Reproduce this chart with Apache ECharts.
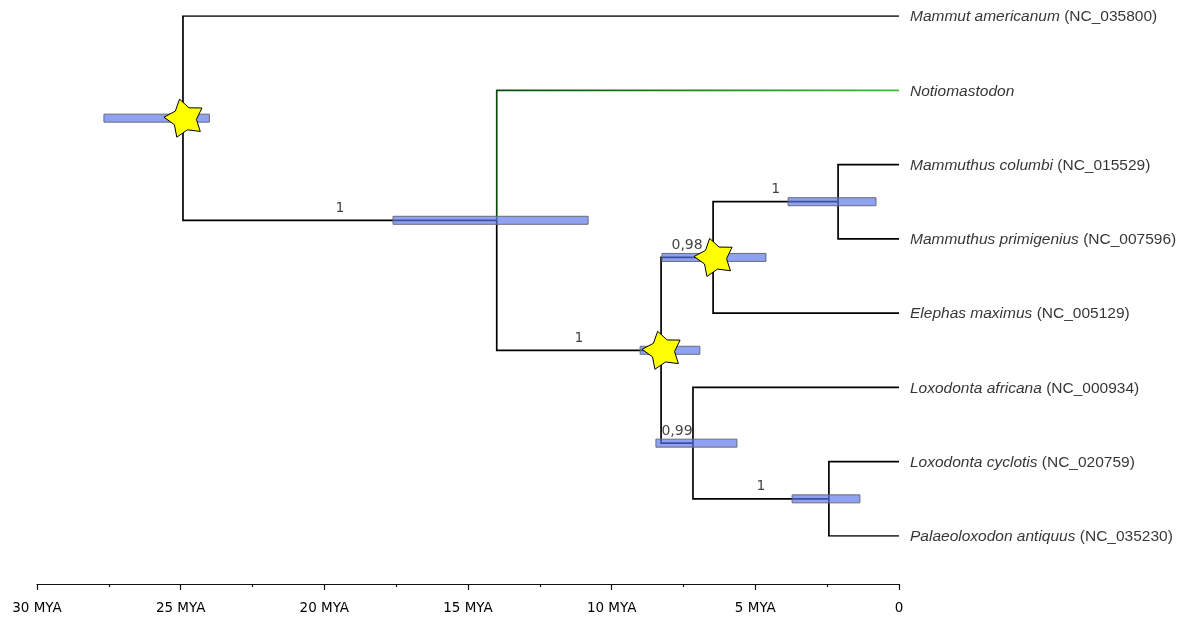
<!DOCTYPE html>
<html><head><meta charset="utf-8">
<script src="https://cdn.jsdelivr.net/npm/echarts@6/dist/echarts.min.js"></script>
<style>html,body{margin:0;padding:0;background:#fff}#c{width:1178px;height:617px}</style>
</head><body><div id="c"></div>
<script>
// ---- data ----
const tipNames = ['Mammut americanum', 'Notiomastodon', 'Mammuthus columbi', 'Mammuthus primigenius',
  'Elephas maximus', 'Loxodonta africana', 'Loxodonta cyclotis', 'Palaeoloxodon antiquus'];
const tipAccessions = ['NC_035800', '', 'NC_015529', 'NC_007596', 'NC_005129', 'NC_000934', 'NC_020759', 'NC_035230'];
const tipIds = ['t0', 't1', 't2', 't3', 't4', 't5', 't6', 't7'];
const nodeIds = ['root', 'A', 'B', 'C', 'D', 'E', 'F'];
const nodeAges = [24.92, 14.0, 8.28, 6.47, 2.12, 7.17, 2.44];        // MYA
const nodeHpdLow = [24.0, 10.82, 6.93, 4.63, 0.80, 5.64, 1.36];
const nodeHpdHigh = [27.67, 17.61, 9.01, 8.25, 3.86, 8.46, 3.72];
const nodeSupport = ['', '1', '1', '0,98', '1', '0,99', '1'];
const nodeChildren = [['t0', 'A'], ['t1', 'B'], ['C', 'E'], ['D', 't4'], ['t2', 't3'], ['t5', 'F'], ['t6', 't7']];
const starNodes = ['root', 'B', 'C'];
const highlightedTip = 't1';
const axisTicks = [30, 25, 20, 15, 10, 5, 0];

// ---- tree layout ----
function isTip(id) { return tipIds.indexOf(id) >= 0; }
function age(id) { return isTip(id) ? 0 : nodeAges[nodeIds.indexOf(id)]; }
function row(id) {
  if (isTip(id)) return tipIds.indexOf(id);
  const ch = nodeChildren[nodeIds.indexOf(id)];
  return (row(ch[0]) + row(ch[1])) / 2;
}
function parentOf(id) {
  for (let i = 0; i < nodeIds.length; i++) if (nodeChildren[i].indexOf(id) >= 0) return nodeIds[i];
  return null;
}

const green = new echarts.graphic.LinearGradient(0, 0, 1, 0, [
  { offset: 0, color: '#0a4a0a' }, { offset: 1, color: '#2fc42f' }
]);

const edgeData = [];
nodeIds.forEach((n, i) => {
  nodeChildren[i].forEach(c => {
    edgeData.push({
      coords: [[age(n), row(n)], [age(n), row(c)], [age(c), row(c)]],
      lineStyle: { color: c === highlightedTip ? green : '#000' }
    });
  });
});

const barData = nodeIds.map((n, i) => [row(n), nodeHpdLow[i], nodeHpdHigh[i]]);
const starData = starNodes.map(n => [age(n), row(n)]);
const supportData = [];
nodeIds.forEach((n, i) => {
  const p = parentOf(n);
  if (p && nodeSupport[i]) supportData.push({ value: [(age(p) + age(n)) / 2, row(n)], name: nodeSupport[i] });
});
const tipData = tipIds.map((t, i) => ({ value: [0, i], name: tipNames[i], acc: tipAccessions[i] }));

// star symbol path (tilted slightly to the left)
function starPath(inner, tiltDeg) {
  let d = '';
  const a0 = -Math.PI / 2 - tiltDeg * Math.PI / 180;
  for (let k = 0; k < 10; k++) {
    const r = k % 2 === 0 ? 1 : inner;
    const a = a0 + k * Math.PI / 5;
    d += (k === 0 ? 'M' : 'L') + (50 + 50 * r * Math.cos(a)).toFixed(2) + ' ' + (50 + 50 * r * Math.sin(a)).toFixed(2) + ' ';
  }
  return 'path://' + d + 'Z';
}

const chart = echarts.init(document.getElementById('c'), null, { renderer: 'canvas' });
chart.setOption({
  animation: false,
  backgroundColor: '#fff',
  grid: { left: 37, right: 279, top: 16, bottom: 81 },
  xAxis: {
    type: 'value', inverse: true, min: 0, max: 30, interval: 5, offset: 48, position: 'bottom',
    axisLine: { show: true, onZero: false, lineStyle: { color: '#111', width: 1.2 } },
    axisTick: { show: true, length: 6, lineStyle: { color: '#111', width: 1.2 } },
    minorTick: { show: true, splitNumber: 2, length: 3, lineStyle: { color: '#111', width: 1.2 } },
    splitLine: { show: false },
    axisLabel: {
      margin: 17, color: '#000', fontFamily: 'DejaVu Sans', fontSize: 13.5,
      formatter: v => (axisTicks.indexOf(v) >= 0 ? (v === 0 ? '0' : v + ' MYA') : '')
    }
  },
  yAxis: { type: 'value', inverse: true, min: 0, max: 7, show: false },
  series: [
    {
      type: 'lines', coordinateSystem: 'cartesian2d', polyline: true, z: 1,
      lineStyle: { width: 1.7, opacity: 1 }, data: edgeData
    },
    {
      type: 'custom', z: 2, encode: { x: [1, 2], y: 0 }, data: barData,
      renderItem: function (params, api) {
        const a = api.coord([api.value(1), api.value(0)]);
        const b = api.coord([api.value(2), api.value(0)]);
        return {
          type: 'rect',
          shape: { x: Math.min(a[0], b[0]), y: a[1] - 4, width: Math.abs(b[0] - a[0]), height: 8 },
          style: { fill: 'rgba(88,118,235,0.68)', stroke: '#6a6a7a', lineWidth: 1 }
        };
      }
    },
    {
      type: 'scatter', z: 3, data: starData, symbol: starPath(0.58, 14), symbolSize: 38,
      itemStyle: { color: '#ffff00', borderColor: '#000', borderWidth: 1, opacity: 1 }
    },
    {
      type: 'scatter', z: 4, data: supportData, symbolSize: 0,
      label: {
        show: true, position: 'top', distance: 5, formatter: p => p.name,
        color: '#111', fontFamily: 'DejaVu Sans', fontSize: 14
      }
    },
    {
      type: 'scatter', z: 4, data: tipData, symbolSize: 0,
      label: {
        show: true, position: 'right', distance: 11, offset: [0, 1],
        formatter: p => '{i|' + p.data.name + '}' + (p.data.acc ? '{n| (' + p.data.acc + ')}' : ''),
        rich: {
          i: { fontStyle: 'italic', fontFamily: 'Liberation Sans', fontSize: 15.5, color: '#000' },
          n: { fontFamily: 'Liberation Sans', fontSize: 15.5, color: '#000' }
        }
      }
    }
  ]
});
</script></body></html>
